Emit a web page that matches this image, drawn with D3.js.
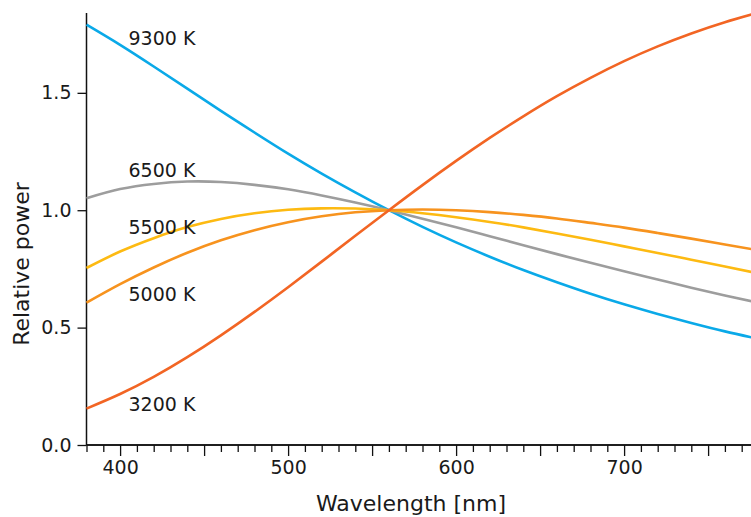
<!DOCTYPE html>
<html>
<head>
<meta charset="utf-8">
<script src="https://cdn.jsdelivr.net/npm/d3@7"></script>
<style>
  html, body { margin: 0; padding: 0; background: #fff; }
  svg { display: block; overflow: hidden; }
  text { font-family: "DejaVu Sans", sans-serif; fill: #1a1a1a; }
</style>
</head>
<body>
<svg id="chart" width="751" height="517"></svg>
<script>
// ---- data (relative spectral power, normalised at 560 nm) ----
const wavelengths = [380,400,420,440,460,480,500,520,540,560,580,600,620,640,660,680,700,720,740,760,780];
const seriesNames = ["9300 K","6500 K","5500 K","5000 K","3200 K"];
const k9300 = [1.790,1.704,1.612,1.518,1.423,1.331,1.241,1.156,1.076,1.000,0.929,0.863,0.802,0.745,0.693,0.644,0.599,0.558,0.520,0.484,0.452];
const k6500 = [1.051,1.090,1.112,1.122,1.120,1.108,1.089,1.063,1.033,1.000,0.964,0.927,0.889,0.851,0.813,0.776,0.740,0.705,0.670,0.637,0.606];
const k5500 = [0.754,0.824,0.881,0.928,0.963,0.987,1.002,1.008,1.007,1.000,0.987,0.970,0.950,0.927,0.901,0.874,0.846,0.818,0.789,0.760,0.731];
const k5000 = [0.606,0.685,0.756,0.819,0.872,0.915,0.949,0.974,0.991,1.000,1.003,1.000,0.992,0.980,0.965,0.946,0.926,0.903,0.879,0.854,0.829];
const k3200 = [0.155,0.217,0.290,0.374,0.467,0.567,0.672,0.781,0.891,1.000,1.107,1.210,1.308,1.400,1.486,1.564,1.635,1.698,1.753,1.801,1.842];
const seriesValues = [k9300, k6500, k5500, k5000, k3200];
const yTicks = [0, 0.5, 1.0, 1.5];
const xMajorTicks = [400, 450, 500, 550, 600, 650, 700, 750];
const xLabelTicks = [400, 500, 600, 700];

// ---- styling / layout ----
const colors = ["#0aa9e8", "#9d9d9d", "#fdba12", "#f7931e", "#f26524"];
const labelPos = [[405, 1.733], [405, 1.171], [405, 0.928], [405, 0.643], [405, 0.175]];

const svg = d3.select("#chart");
const x = d3.scaleLinear().domain([380, 780]).range([86.5, 758.5]);
const y = d3.scaleLinear().domain([0, 1.84]).range([445, 13]);

// x axis minor + major ticks
const minor = d3.range(380, 781, 10).filter(v => !xMajorTicks.includes(v));
const xAxisMinor = d3.axisBottom(x).tickValues(minor).tickSize(7).tickFormat("");
const xAxisMajor = d3.axisBottom(x).tickValues(xMajorTicks).tickSize(11)
  .tickFormat(d => xLabelTicks.includes(d) ? d : "").tickPadding(5);

const gxm = svg.append("g").attr("transform", "translate(0,445)").call(xAxisMinor);
const gx = svg.append("g").attr("transform", "translate(0,445)").call(xAxisMajor);
[gxm, gx].forEach(g => {
  g.select(".domain").attr("d", `M${x(380)},0H${x(780)}`).attr("stroke", "#111").attr("stroke-width", 1.5);
  g.selectAll(".tick line").attr("stroke", "#111").attr("stroke-width", 1.3);
});
gx.selectAll(".tick text").attr("font-size", 19).attr("font-family", "DejaVu Sans").attr("fill", "#1a1a1a");

const yAxis = d3.axisLeft(y).tickValues(yTicks).tickSize(9).tickPadding(6)
  .tickFormat(d3.format(".1f"));
const gy = svg.append("g").attr("transform", `translate(${x(380)},0)`).call(yAxis);
gy.select(".domain").attr("d", `M0,${y(0)}V${y(1.84)}`).attr("stroke", "#111").attr("stroke-width", 1.5);
gy.selectAll(".tick line").attr("stroke", "#111").attr("stroke-width", 1.3);
gy.selectAll(".tick text").attr("font-size", 19).attr("font-family", "DejaVu Sans").attr("fill", "#1a1a1a");

// curves
const line = d3.line()
  .x((d, i) => x(wavelengths[i]))
  .y(d => y(d))
  .curve(d3.curveNatural);

svg.append("g").selectAll("path")
  .data(seriesValues)
  .join("path")
  .attr("d", d => line(d))
  .attr("fill", "none")
  .attr("stroke", (d, i) => colors[i])
  .attr("stroke-width", 2.6);

// series labels
svg.append("g").selectAll("text")
  .data(seriesNames)
  .join("text")
  .attr("x", (d, i) => x(labelPos[i][0]))
  .attr("y", (d, i) => y(labelPos[i][1]))
  .attr("dy", "0.36em")
  .attr("font-size", 19)
  .text(d => d);

// axis titles
svg.append("text")
  .attr("transform", `translate(29,264) rotate(-90)`)
  .attr("text-anchor", "middle")
  .attr("font-size", 22)
  .text("Relative power");

svg.append("text")
  .attr("x", 411)
  .attr("y", 511)
  .attr("text-anchor", "middle")
  .attr("font-size", 22)
  .text("Wavelength [nm]");
</script>
</body>
</html>
